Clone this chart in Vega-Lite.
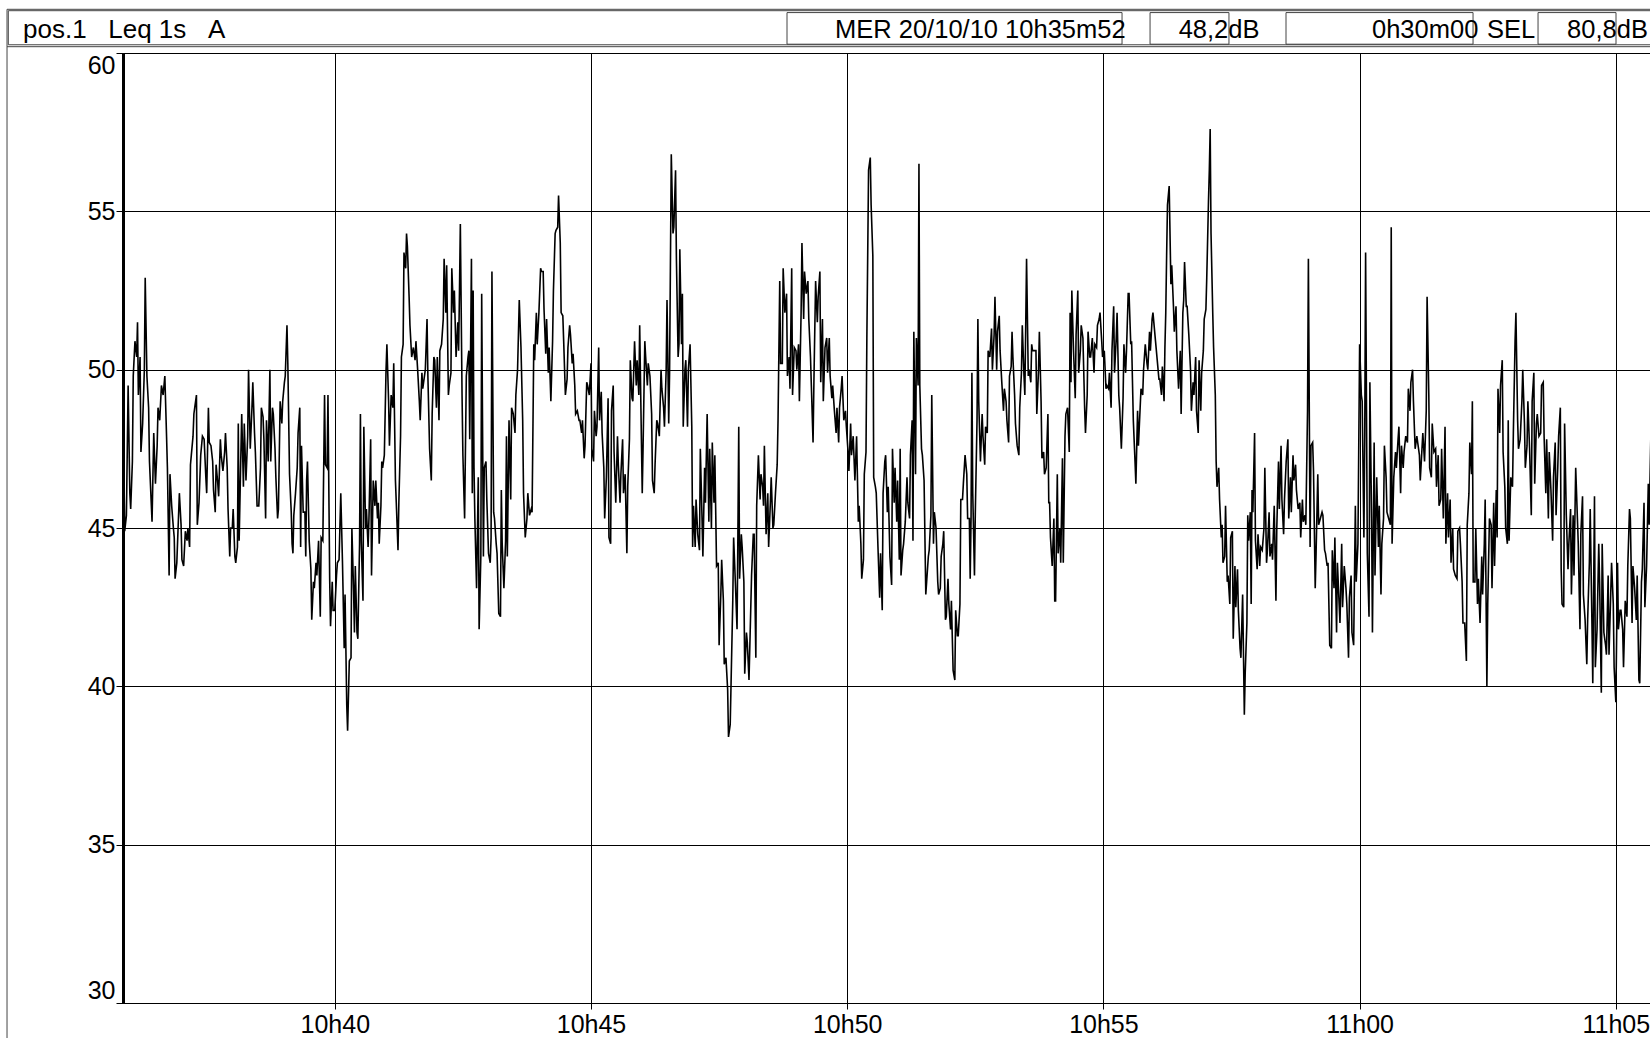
{
"$schema": "https://vega.github.io/schema/vega-lite/v6.json",
"width": 1527, "height": 950,
"autosize": {"type": "none"},
"padding": {"left": 123, "top": 53, "right": 0, "bottom": 35},
"background": "white",
"config": {
 "view": {"stroke": "black", "strokeWidth": 1},
 "font": "Liberation Sans",
 "axis": {"domainColor": "black", "gridColor": "black", "gridOpacity": 1, "gridWidth": 1, "tickColor": "black", "labelColor": "black", "labelFont": "Liberation Sans", "labelFontSize": 25, "title": null},
 "text": {"font": "Liberation Sans", "fontSize": 25.5, "color": "black"}
},
"data": {"values": [
{"t":1,"leq":46.9},{"t":2,"leq":44.9},{"t":4,"leq":45.4},{"t":6,"leq":49.5},{"t":8,"leq":46.1},{"t":9,"leq":45.6},{"t":11,"leq":47.1},{"t":12,"leq":49.8},{"t":14,"leq":50.9},{"t":16,"leq":50.4},{"t":17,"leq":51.5},{"t":18,"leq":49.2},{"t":20,"leq":50.4},{"t":21,"leq":47.4},{"t":23,"leq":48.3},{"t":25,"leq":50.0},{"t":26,"leq":52.9},{"t":28,"leq":49.8},{"t":30,"leq":48.8},{"t":31,"leq":47.1},{"t":34,"leq":45.2},{"t":36,"leq":48.0},{"t":38,"leq":46.4},{"t":40,"leq":47.6},{"t":41,"leq":48.8},{"t":43,"leq":48.4},{"t":45,"leq":49.5},{"t":47,"leq":49.2},{"t":49,"leq":49.8},{"t":51,"leq":47.9},{"t":52,"leq":46.9},{"t":54,"leq":43.5},{"t":55,"leq":46.7},{"t":57,"leq":45.7},{"t":59,"leq":45.0},{"t":60,"leq":44.7},{"t":61,"leq":43.4},{"t":63,"leq":43.9},{"t":66,"leq":46.1},{"t":68,"leq":45.1},{"t":69,"leq":44.0},{"t":71,"leq":43.8},{"t":73,"leq":44.9},{"t":75,"leq":44.6},{"t":76,"leq":45.0},{"t":78,"leq":44.4},{"t":79,"leq":47.0},{"t":80,"leq":47.3},{"t":82,"leq":47.9},{"t":83,"leq":48.6},{"t":84,"leq":48.8},{"t":86,"leq":49.2},{"t":87,"leq":45.1},{"t":89,"leq":45.8},{"t":91,"leq":47.3},{"t":93,"leq":47.9},{"t":95,"leq":47.8},{"t":97,"leq":46.6},{"t":98,"leq":46.1},{"t":100,"leq":48.8},{"t":101,"leq":47.7},{"t":103,"leq":47.6},{"t":105,"leq":47.1},{"t":106,"leq":46.2},{"t":108,"leq":45.5},{"t":109,"leq":47.0},{"t":111,"leq":46.4},{"t":112,"leq":46.0},{"t":114,"leq":47.8},{"t":115,"leq":47.3},{"t":117,"leq":46.8},{"t":119,"leq":47.4},{"t":120,"leq":48.0},{"t":122,"leq":46.9},{"t":123,"leq":45.6},{"t":125,"leq":44.1},{"t":126,"leq":45.0},{"t":128,"leq":45.0},{"t":129,"leq":45.6},{"t":131,"leq":44.1},{"t":132,"leq":43.9},{"t":134,"leq":44.4},{"t":135,"leq":48.3},{"t":136,"leq":44.6},{"t":138,"leq":47.3},{"t":139,"leq":48.6},{"t":141,"leq":46.3},{"t":142,"leq":48.3},{"t":144,"leq":46.5},{"t":146,"leq":47.9},{"t":147,"leq":50.0},{"t":149,"leq":47.5},{"t":151,"leq":48.8},{"t":152,"leq":49.6},{"t":154,"leq":48.0},{"t":155,"leq":47.4},{"t":157,"leq":45.7},{"t":159,"leq":45.7},{"t":161,"leq":46.9},{"t":162,"leq":48.8},{"t":164,"leq":48.5},{"t":165,"leq":47.8},{"t":167,"leq":45.3},{"t":168,"leq":48.4},{"t":170,"leq":47.1},{"t":172,"leq":50.0},{"t":173,"leq":47.1},{"t":175,"leq":48.8},{"t":176,"leq":48.6},{"t":178,"leq":47.5},{"t":179,"leq":46.6},{"t":181,"leq":45.3},{"t":182,"leq":45.6},{"t":184,"leq":49.0},{"t":186,"leq":48.3},{"t":187,"leq":49.0},{"t":189,"leq":49.6},{"t":190,"leq":49.8},{"t":192,"leq":51.4},{"t":193,"leq":50.2},{"t":195,"leq":46.7},{"t":197,"leq":45.5},{"t":198,"leq":44.5},{"t":199,"leq":44.2},{"t":200,"leq":45.4},{"t":202,"leq":46.1},{"t":204,"leq":46.9},{"t":205,"leq":48.0},{"t":207,"leq":48.8},{"t":208,"leq":44.4},{"t":209,"leq":47.6},{"t":211,"leq":45.5},{"t":213,"leq":45.5},{"t":214,"leq":44.1},{"t":215,"leq":46.5},{"t":216,"leq":47.1},{"t":218,"leq":44.6},{"t":220,"leq":43.7},{"t":221,"leq":42.1},{"t":223,"leq":43.3},{"t":224,"leq":43.1},{"t":226,"leq":43.9},{"t":227,"leq":43.5},{"t":229,"leq":44.6},{"t":231,"leq":42.2},{"t":232,"leq":44.7},{"t":234,"leq":44.6},{"t":236,"leq":49.2},{"t":237,"leq":47.0},{"t":239,"leq":46.9},{"t":240,"leq":49.2},{"t":242,"leq":43.4},{"t":243,"leq":41.9},{"t":245,"leq":43.3},{"t":246,"leq":42.4},{"t":248,"leq":42.4},{"t":250,"leq":43.5},{"t":251,"leq":43.9},{"t":253,"leq":44.0},{"t":255,"leq":46.1},
{"t":257,"leq":43.9},{"t":259,"leq":41.2},{"t":260,"leq":42.9},{"t":262,"leq":39.4},{"t":263,"leq":38.6},{"t":265,"leq":40.8},{"t":267,"leq":40.9},{"t":268,"leq":45.0},{"t":270,"leq":43.0},{"t":271,"leq":41.7},{"t":272,"leq":43.8},{"t":274,"leq":41.7},{"t":275,"leq":41.5},{"t":277,"leq":44.5},{"t":278,"leq":48.6},{"t":279,"leq":44.6},{"t":281,"leq":42.7},{"t":282,"leq":48.2},{"t":284,"leq":45.0},{"t":285,"leq":45.6},{"t":287,"leq":44.4},{"t":288,"leq":45.3},{"t":290,"leq":47.8},{"t":291,"leq":43.5},{"t":293,"leq":46.5},{"t":295,"leq":45.7},{"t":296,"leq":46.5},{"t":298,"leq":45.3},{"t":299,"leq":45.8},{"t":300,"leq":44.5},{"t":302,"leq":45.7},{"t":303,"leq":47.1},{"t":304,"leq":46.9},{"t":306,"leq":47.3},{"t":308,"leq":50.0},{"t":309,"leq":50.8},{"t":311,"leq":49.0},{"t":312,"leq":47.6},{"t":314,"leq":49.2},{"t":316,"leq":48.8},{"t":317,"leq":50.2},{"t":319,"leq":46.5},{"t":320,"leq":45.8},{"t":322,"leq":44.3},{"t":323,"leq":45.8},{"t":325,"leq":47.9},{"t":326,"leq":50.4},{"t":328,"leq":50.8},{"t":329,"leq":53.7},{"t":331,"leq":53.2},{"t":332,"leq":54.3},{"t":333,"leq":53.9},{"t":335,"leq":52.3},{"t":336,"leq":51.4},{"t":338,"leq":50.4},{"t":340,"leq":50.7},{"t":342,"leq":50.3},{"t":343,"leq":50.9},{"t":345,"leq":50.0},{"t":347,"leq":49.0},{"t":348,"leq":48.4},{"t":350,"leq":49.9},{"t":351,"leq":49.4},{"t":353,"leq":49.8},{"t":354,"leq":50.0},{"t":356,"leq":51.6},{"t":357,"leq":49.8},{"t":359,"leq":47.5},{"t":361,"leq":46.5},{"t":362,"leq":48.6},{"t":364,"leq":50.4},{"t":365,"leq":50.3},{"t":367,"leq":48.8},{"t":368,"leq":50.4},{"t":370,"leq":48.4},{"t":371,"leq":50.6},{"t":373,"leq":50.8},{"t":375,"leq":51.6},{"t":376,"leq":53.5},{"t":378,"leq":51.8},{"t":379,"leq":53.3},{"t":381,"leq":49.2},{"t":382,"leq":49.5},{"t":384,"leq":49.9},{"t":385,"leq":53.2},{"t":387,"leq":51.8},{"t":388,"leq":52.5},{"t":390,"leq":50.4},{"t":392,"leq":51.5},{"t":393,"leq":50.6},{"t":394,"leq":52.5},{"t":395,"leq":54.6},{"t":397,"leq":49.2},{"t":398,"leq":47.3},{"t":400,"leq":45.3},{"t":402,"leq":49.8},{"t":404,"leq":50.4},{"t":405,"leq":50.6},{"t":406,"leq":47.8},{"t":408,"leq":53.5},{"t":409,"leq":46.1},{"t":410,"leq":52.5},{"t":411,"leq":46.9},{"t":412,"leq":45.3},{"t":414,"leq":43.1},{"t":416,"leq":46.6},{"t":417,"leq":41.8},{"t":419,"leq":44.1},{"t":420,"leq":52.4},{"t":422,"leq":44.1},{"t":423,"leq":46.9},{"t":425,"leq":47.1},{"t":426,"leq":45.9},{"t":428,"leq":44.2},{"t":430,"leq":43.9},{"t":431,"leq":44.7},{"t":432,"leq":53.1},{"t":434,"leq":45.5},{"t":435,"leq":45.3},{"t":437,"leq":44.5},{"t":438,"leq":44.2},{"t":440,"leq":42.3},{"t":442,"leq":42.2},{"t":443,"leq":46.2},{"t":444,"leq":44.5},{"t":446,"leq":43.1},{"t":448,"leq":44.6},{"t":449,"leq":47.9},{"t":450,"leq":44.1},{"t":452,"leq":48.4},{"t":454,"leq":45.9},{"t":455,"leq":48.8},{"t":457,"leq":48.6},{"t":459,"leq":48.0},{"t":460,"leq":49.2},{"t":462,"leq":50.0},{"t":463,"leq":51.1},{"t":464,"leq":52.2},{"t":466,"leq":50.7},{"t":468,"leq":48.4},{"t":469,"leq":46.1},{"t":471,"leq":44.7},{"t":473,"leq":45.3},{"t":474,"leq":46.1},{"t":476,"leq":45.4},{"t":478,"leq":45.6},{"t":479,"leq":45.5},{"t":481,"leq":50.8},{"t":482,"leq":50.3},{"t":484,"leq":51.8},{"t":485,"leq":50.8},{"t":487,"leq":51.8},{"t":489,"leq":53.2},{"t":490,"leq":53.1},{"t":492,"leq":53.1},{"t":493,"leq":51.9},{"t":495,"leq":50.5},{"t":496,"leq":51.6},{"t":498,"leq":49.9},{"t":499,"leq":50.7},{"t":501,"leq":49.0},{"t":503,"leq":50.9},{"t":504,"leq":52.5},{"t":506,"leq":54.3},{"t":507,"leq":54.4},{"t":509,"leq":54.5},{"t":510,"leq":55.5},{"t":512,"leq":54.0},{"t":513,"leq":51.8},{"t":515,"leq":51.7},{"t":516,"leq":50.9},{"t":518,"leq":49.2},{"t":520,"leq":49.7},{"t":521,"leq":50.7},{"t":523,"leq":51.4},{"t":524,"leq":51.1},{"t":526,"leq":50.2},{"t":527,"leq":50.5},{"t":529,"leq":49.5},{"t":530,"leq":48.6},{"t":532,"leq":48.7},{"t":534,"leq":48.4},{"t":535,"leq":48.4},{"t":537,"leq":48.0},{"t":538,"leq":48.4},{"t":540,"leq":47.2},{"t":541,"leq":47.6},{"t":543,"leq":49.6},{"t":544,"leq":49.5},{"t":546,"leq":49.2},{"t":548,"leq":50.2},{"t":549,"leq":47.5},{"t":551,"leq":47.1},{"t":552,"leq":48.7},{"t":554,"leq":47.9},{"t":555,"leq":48.2},{"t":557,"leq":50.7},
{"t":558,"leq":48.4},{"t":560,"leq":49.3},{"t":561,"leq":48.0},{"t":563,"leq":46.9},{"t":564,"leq":45.3},{"t":566,"leq":46.6},{"t":568,"leq":49.1},{"t":569,"leq":44.7},{"t":571,"leq":44.5},{"t":572,"leq":48.7},{"t":574,"leq":49.5},{"t":575,"leq":47.4},{"t":577,"leq":45.8},{"t":579,"leq":47.9},{"t":580,"leq":47.0},{"t":582,"leq":45.8},{"t":583,"leq":46.7},{"t":585,"leq":47.8},{"t":586,"leq":46.1},{"t":588,"leq":46.7},{"t":590,"leq":44.2},{"t":591,"leq":46.3},{"t":593,"leq":47.8},{"t":594,"leq":50.3},{"t":596,"leq":49.1},{"t":597,"leq":49.0},{"t":599,"leq":50.9},{"t":601,"leq":49.5},{"t":602,"leq":50.3},{"t":604,"leq":49.2},{"t":605,"leq":51.4},{"t":607,"leq":47.8},{"t":608,"leq":46.1},{"t":609,"leq":47.6},{"t":611,"leq":50.9},{"t":612,"leq":50.4},{"t":614,"leq":49.5},{"t":615,"leq":50.2},{"t":617,"leq":49.8},{"t":619,"leq":48.6},{"t":620,"leq":46.5},{"t":622,"leq":46.1},{"t":623,"leq":47.0},{"t":625,"leq":48.4},{"t":626,"leq":48.3},{"t":628,"leq":47.9},{"t":630,"leq":50.0},{"t":631,"leq":49.4},{"t":633,"leq":48.8},{"t":634,"leq":48.2},{"t":636,"leq":50.0},{"t":637,"leq":52.2},{"t":639,"leq":48.3},{"t":640,"leq":49.9},{"t":642,"leq":56.8},{"t":644,"leq":54.3},{"t":645,"leq":54.5},{"t":647,"leq":56.3},{"t":648,"leq":53.5},{"t":650,"leq":50.4},{"t":651,"leq":50.8},{"t":652,"leq":53.8},{"t":654,"leq":50.8},{"t":655,"leq":52.4},{"t":656,"leq":48.2},{"t":658,"leq":50.0},{"t":659,"leq":50.3},{"t":661,"leq":48.2},{"t":662,"leq":50.0},{"t":664,"leq":50.8},{"t":666,"leq":48.2},{"t":667,"leq":44.4},{"t":668,"leq":45.7},{"t":670,"leq":44.4},{"t":671,"leq":45.9},{"t":673,"leq":44.8},{"t":675,"leq":44.3},{"t":676,"leq":47.5},{"t":678,"leq":45.3},{"t":679,"leq":44.1},{"t":681,"leq":46.9},{"t":682,"leq":45.8},{"t":684,"leq":48.6},{"t":686,"leq":45.2},{"t":687,"leq":47.5},{"t":689,"leq":45.0},{"t":690,"leq":47.7},{"t":692,"leq":45.8},{"t":693,"leq":47.3},{"t":695,"leq":43.8},{"t":697,"leq":43.9},{"t":698,"leq":41.3},{"t":700,"leq":42.9},{"t":701,"leq":44.0},{"t":703,"leq":42.7},{"t":704,"leq":40.7},{"t":706,"leq":40.9},{"t":708,"leq":39.9},{"t":709,"leq":38.4},{"t":711,"leq":38.8},{"t":712,"leq":40.1},{"t":714,"leq":42.7},{"t":715,"leq":44.7},{"t":717,"leq":43.3},{"t":719,"leq":41.8},{"t":720,"leq":44.8},{"t":721,"leq":48.2},{"t":722,"leq":43.4},{"t":724,"leq":44.8},{"t":725,"leq":44.4},{"t":727,"leq":43.3},{"t":728,"leq":40.4},{"t":730,"leq":41.7},{"t":731,"leq":41.4},{"t":733,"leq":40.2},{"t":735,"leq":42.4},{"t":736,"leq":43.5},{"t":738,"leq":44.8},{"t":739,"leq":44.8},{"t":741,"leq":40.9},{"t":742,"leq":45.7},{"t":744,"leq":47.3},{"t":746,"leq":45.9},{"t":747,"leq":46.7},{"t":749,"leq":46.3},{"t":750,"leq":45.7},{"t":751,"leq":47.6},{"t":753,"leq":44.8},{"t":755,"leq":46.1},{"t":756,"leq":44.4},{"t":758,"leq":45.8},{"t":759,"leq":46.6},{"t":761,"leq":45.0},{"t":762,"leq":45.1},{"t":764,"leq":46.1},{"t":766,"leq":47.0},{"t":767,"leq":48.4},{"t":769,"leq":52.8},{"t":770,"leq":50.2},{"t":772,"leq":50.2},{"t":773,"leq":53.2},{"t":775,"leq":51.8},{"t":777,"leq":52.4},{"t":778,"leq":49.8},{"t":780,"leq":50.4},{"t":781,"leq":49.4},{"t":783,"leq":53.2},{"t":784,"leq":49.2},{"t":786,"leq":50.7},{"t":788,"leq":50.6},{"t":789,"leq":50.0},{"t":791,"leq":50.8},{"t":792,"leq":49.0},{"t":794,"leq":51.8},{"t":795,"leq":54.0},{"t":797,"leq":51.6},{"t":798,"leq":53.1},{"t":800,"leq":52.4},{"t":802,"leq":52.8},{"t":803,"leq":51.6},{"t":805,"leq":50.4},{"t":806,"leq":49.5},{"t":808,"leq":47.7},{"t":809,"leq":49.6},{"t":811,"leq":52.8},{"t":813,"leq":51.5},{"t":814,"leq":52.3},{"t":816,"leq":53.1},{"t":817,"leq":49.6},{"t":819,"leq":51.6},{"t":820,"leq":49.0},{"t":822,"leq":50.7},{"t":824,"leq":51.0},{"t":825,"leq":49.9},{"t":827,"leq":51.0},{"t":828,"leq":49.8},{"t":830,"leq":49.1},{"t":831,"leq":49.5},{"t":833,"leq":48.7},{"t":835,"leq":48.0},{"t":836,"leq":48.8},{"t":838,"leq":47.7},{"t":839,"leq":48.8},{"t":841,"leq":49.4},{"t":842,"leq":49.8},{"t":844,"leq":48.4},{"t":846,"leq":48.7},{"t":847,"leq":48.2},{"t":849,"leq":47.4},{"t":850,"leq":46.8},{"t":852,"leq":48.3},{"t":853,"leq":47.3},{"t":855,"leq":47.9},{"t":857,"leq":46.5},
{"t":859,"leq":47.9},{"t":861,"leq":45.2},{"t":862,"leq":45.7},{"t":864,"leq":44.5},{"t":865,"leq":43.4},{"t":867,"leq":44.0},{"t":868,"leq":46.7},{"t":870,"leq":47.4},{"t":871,"leq":51.0},{"t":873,"leq":56.3},{"t":875,"leq":56.7},{"t":876,"leq":55.2},{"t":878,"leq":53.6},{"t":879,"leq":46.6},{"t":881,"leq":46.3},{"t":882,"leq":46.1},{"t":884,"leq":44.4},{"t":886,"leq":42.8},{"t":887,"leq":44.2},{"t":889,"leq":42.4},{"t":890,"leq":46.1},{"t":892,"leq":47.1},{"t":893,"leq":47.3},{"t":895,"leq":45.5},{"t":896,"leq":46.3},{"t":898,"leq":44.1},{"t":900,"leq":43.2},{"t":901,"leq":47.5},{"t":903,"leq":45.8},{"t":904,"leq":46.9},{"t":906,"leq":45.2},{"t":907,"leq":46.5},{"t":909,"leq":44.0},{"t":910,"leq":47.5},{"t":911,"leq":43.5},{"t":913,"leq":44.3},{"t":914,"leq":44.5},{"t":916,"leq":45.2},{"t":918,"leq":46.6},{"t":919,"leq":45.8},{"t":921,"leq":45.3},{"t":922,"leq":47.3},{"t":924,"leq":48.4},{"t":925,"leq":44.6},{"t":926,"leq":51.2},{"t":928,"leq":46.7},{"t":929,"leq":51.0},{"t":931,"leq":49.5},{"t":932,"leq":56.5},{"t":933,"leq":49.5},{"t":935,"leq":47.5},{"t":936,"leq":47.3},{"t":938,"leq":46.5},{"t":940,"leq":42.9},{"t":941,"leq":43.3},{"t":943,"leq":44.1},{"t":944,"leq":44.3},{"t":946,"leq":45.4},{"t":947,"leq":49.2},{"t":949,"leq":44.5},{"t":950,"leq":45.5},{"t":952,"leq":45.0},{"t":954,"leq":43.3},{"t":955,"leq":42.9},{"t":957,"leq":43.1},{"t":958,"leq":44.1},{"t":960,"leq":44.5},{"t":961,"leq":44.9},{"t":963,"leq":42.1},{"t":964,"leq":42.2},{"t":966,"leq":43.4},{"t":967,"leq":42.6},{"t":969,"leq":41.8},{"t":970,"leq":42.7},{"t":972,"leq":40.5},{"t":974,"leq":40.2},{"t":975,"leq":42.4},{"t":977,"leq":41.6},{"t":978,"leq":41.6},{"t":980,"leq":42.6},{"t":981,"leq":45.9},{"t":983,"leq":45.9},{"t":984,"leq":46.4},{"t":986,"leq":47.3},{"t":988,"leq":46.7},{"t":989,"leq":45.3},{"t":991,"leq":45.3},{"t":992,"leq":43.4},{"t":993,"leq":45.3},{"t":994,"leq":49.9},{"t":995,"leq":46.1},{"t":997,"leq":43.5},{"t":998,"leq":45.5},{"t":1000,"leq":48.4},{"t":1001,"leq":51.6},{"t":1002,"leq":49.0},{"t":1004,"leq":47.1},{"t":1006,"leq":48.6},{"t":1007,"leq":47.9},{"t":1009,"leq":47.0},{"t":1010,"leq":48.2},{"t":1012,"leq":48.0},{"t":1013,"leq":50.6},{"t":1015,"leq":50.4},{"t":1017,"leq":51.3},{"t":1018,"leq":50.0},{"t":1020,"leq":51.1},{"t":1021,"leq":52.3},{"t":1023,"leq":50.0},{"t":1024,"leq":51.2},{"t":1026,"leq":51.7},{"t":1027,"leq":50.6},{"t":1029,"leq":49.6},{"t":1031,"leq":48.7},{"t":1032,"leq":49.4},{"t":1034,"leq":49.0},{"t":1035,"leq":48.4},{"t":1037,"leq":47.7},{"t":1038,"leq":49.8},{"t":1040,"leq":50.1},{"t":1041,"leq":51.2},{"t":1042,"leq":50.4},{"t":1044,"leq":49.2},{"t":1045,"leq":48.3},{"t":1047,"leq":47.6},{"t":1049,"leq":47.3},{"t":1050,"leq":48.8},{"t":1052,"leq":49.9},{"t":1053,"leq":51.4},{"t":1055,"leq":49.8},{"t":1056,"leq":49.2},{"t":1058,"leq":53.5},{"t":1060,"leq":49.8},{"t":1061,"leq":50.0},{"t":1063,"leq":49.6},{"t":1064,"leq":50.8},{"t":1065,"leq":50.6},{"t":1067,"leq":50.6},{"t":1069,"leq":50.6},{"t":1070,"leq":48.6},{"t":1072,"leq":50.0},{"t":1073,"leq":51.2},{"t":1075,"leq":49.0},{"t":1076,"leq":47.2},{"t":1078,"leq":47.4},{"t":1079,"leq":46.7},{"t":1081,"leq":46.9},{"t":1083,"leq":48.6},{"t":1084,"leq":45.8},{"t":1085,"leq":45.8},{"t":1086,"leq":44.7},{"t":1088,"leq":43.8},{"t":1090,"leq":45.3},{"t":1091,"leq":42.7},{"t":1092,"leq":42.7},{"t":1094,"leq":46.7},{"t":1095,"leq":44.2},{"t":1097,"leq":45.0},{"t":1098,"leq":43.9},{"t":1100,"leq":47.2},{"t":1101,"leq":43.9},{"t":1103,"leq":47.9},{"t":1104,"leq":48.6},{"t":1106,"leq":48.8},{"t":1108,"leq":47.4},{"t":1109,"leq":51.8},{"t":1110,"leq":49.6},{"t":1111,"leq":52.5},{"t":1113,"leq":50.6},{"t":1115,"leq":49.1},{"t":1116,"leq":51.1},{"t":1118,"leq":52.5},{"t":1119,"leq":49.9},{"t":1121,"leq":50.6},{"t":1122,"leq":51.4},{"t":1124,"leq":51.0},{"t":1126,"leq":48.8},{"t":1127,"leq":48.0},{"t":1129,"leq":49.2},{"t":1130,"leq":51.2},{"t":1132,"leq":50.4},{"t":1133,"leq":50.4},{"t":1135,"leq":51.0},{"t":1137,"leq":49.9},{"t":1138,"leq":50.8},{"t":1140,"leq":50.7},{"t":1141,"leq":51.4},{"t":1143,"leq":51.6},{"t":1144,"leq":51.8},{"t":1146,"leq":50.9},{"t":1147,"leq":50.4},{"t":1149,"leq":50.6},{"t":1151,"leq":49.4},{"t":1152,"leq":49.5},{"t":1154,"leq":49.4},{"t":1155,"leq":49.9},
{"t":1157,"leq":48.8},{"t":1158,"leq":50.6},{"t":1160,"leq":52.0},{"t":1161,"leq":49.9},{"t":1163,"leq":51.0},{"t":1164,"leq":51.8},{"t":1166,"leq":49.2},{"t":1167,"leq":48.8},{"t":1169,"leq":47.5},{"t":1171,"leq":49.1},{"t":1172,"leq":50.8},{"t":1174,"leq":49.9},{"t":1175,"leq":50.6},{"t":1177,"leq":52.4},{"t":1178,"leq":52.4},{"t":1180,"leq":50.8},{"t":1181,"leq":50.9},{"t":1183,"leq":48.4},{"t":1185,"leq":47.1},{"t":1186,"leq":46.4},{"t":1188,"leq":48.7},{"t":1189,"leq":47.6},{"t":1191,"leq":48.8},{"t":1192,"leq":49.4},{"t":1194,"leq":49.2},{"t":1195,"leq":50.0},{"t":1197,"leq":50.8},{"t":1199,"leq":50.2},{"t":1200,"leq":50.0},{"t":1202,"leq":51.2},{"t":1203,"leq":50.6},{"t":1205,"leq":51.6},{"t":1206,"leq":51.8},{"t":1208,"leq":51.2},{"t":1209,"leq":50.9},{"t":1211,"leq":50.3},{"t":1213,"leq":49.7},{"t":1214,"leq":49.7},{"t":1216,"leq":49.2},{"t":1217,"leq":50.1},{"t":1219,"leq":49.0},{"t":1220,"leq":50.7},{"t":1221,"leq":51.8},{"t":1222,"leq":53.6},{"t":1223,"leq":55.2},{"t":1225,"leq":55.8},{"t":1227,"leq":52.7},{"t":1228,"leq":53.3},{"t":1230,"leq":52.0},{"t":1231,"leq":51.2},{"t":1233,"leq":52.0},{"t":1234,"leq":50.6},{"t":1236,"leq":49.4},{"t":1238,"leq":50.6},{"t":1239,"leq":48.6},{"t":1241,"leq":51.8},{"t":1242,"leq":52.2},{"t":1243,"leq":53.4},{"t":1245,"leq":52.0},{"t":1246,"leq":52.0},{"t":1248,"leq":51.1},{"t":1250,"leq":50.0},{"t":1251,"leq":48.7},{"t":1253,"leq":49.6},{"t":1254,"leq":49.2},{"t":1256,"leq":50.4},{"t":1257,"leq":48.7},{"t":1259,"leq":48.0},{"t":1260,"leq":50.3},{"t":1262,"leq":48.7},{"t":1263,"leq":49.9},{"t":1265,"leq":50.6},{"t":1266,"leq":51.6},{"t":1268,"leq":51.9},{"t":1269,"leq":52.9},{"t":1271,"leq":55.3},{"t":1272,"leq":56.3},{"t":1273,"leq":57.6},{"t":1274,"leq":54.3},{"t":1276,"leq":51.8},{"t":1277,"leq":50.7},{"t":1279,"leq":49.2},{"t":1280,"leq":47.1},{"t":1281,"leq":46.3},{"t":1283,"leq":46.9},{"t":1284,"leq":45.9},{"t":1286,"leq":44.7},{"t":1287,"leq":45.1},{"t":1288,"leq":43.9},{"t":1290,"leq":44.1},{"t":1291,"leq":45.7},{"t":1293,"leq":43.3},{"t":1294,"leq":43.5},{"t":1296,"leq":42.6},{"t":1297,"leq":44.7},{"t":1299,"leq":44.9},{"t":1300,"leq":41.5},{"t":1302,"leq":43.8},{"t":1303,"leq":42.5},{"t":1305,"leq":43.7},{"t":1306,"leq":42.4},{"t":1308,"leq":41.2},{"t":1309,"leq":40.9},{"t":1311,"leq":42.9},{"t":1313,"leq":39.1},{"t":1314,"leq":40.4},{"t":1316,"leq":42.0},{"t":1317,"leq":45.4},{"t":1318,"leq":44.6},{"t":1320,"leq":45.5},{"t":1321,"leq":42.6},{"t":1322,"leq":46.2},{"t":1323,"leq":45.5},{"t":1325,"leq":48.0},{"t":1326,"leq":44.6},{"t":1328,"leq":43.7},{"t":1329,"leq":44.8},{"t":1331,"leq":43.8},{"t":1332,"leq":44.4},{"t":1334,"leq":44.3},{"t":1336,"leq":45.0},{"t":1337,"leq":46.9},{"t":1339,"leq":43.9},{"t":1340,"leq":44.3},{"t":1342,"leq":45.5},{"t":1343,"leq":44.1},{"t":1345,"leq":44.5},{"t":1346,"leq":44.0},{"t":1348,"leq":45.7},{"t":1350,"leq":42.7},{"t":1351,"leq":45.0},{"t":1353,"leq":47.1},{"t":1354,"leq":45.6},{"t":1356,"leq":47.6},{"t":1357,"leq":45.9},{"t":1359,"leq":44.8},{"t":1360,"leq":45.9},{"t":1362,"leq":47.1},{"t":1364,"leq":47.8},{"t":1365,"leq":45.3},{"t":1367,"leq":46.6},{"t":1368,"leq":45.5},{"t":1370,"leq":47.3},{"t":1371,"leq":46.5},{"t":1373,"leq":47.0},{"t":1374,"leq":46.2},{"t":1376,"leq":45.6},{"t":1378,"leq":45.8},{"t":1379,"leq":44.7},{"t":1381,"leq":45.9},{"t":1382,"leq":45.2},{"t":1384,"leq":45.4},{"t":1385,"leq":45.1},{"t":1387,"leq":48.7},{"t":1388,"leq":53.5},{"t":1390,"leq":44.4},{"t":1391,"leq":47.6},{"t":1393,"leq":47.7},{"t":1394,"leq":46.8},{"t":1396,"leq":43.1},{"t":1397,"leq":44.2},{"t":1399,"leq":46.7},{"t":1400,"leq":45.1},{"t":1402,"leq":45.3},{"t":1404,"leq":45.5},{"t":1405,"leq":45.4},{"t":1407,"leq":44.3},{"t":1408,"leq":44.2},{"t":1410,"leq":43.8},{"t":1411,"leq":43.9},{"t":1413,"leq":41.3},{"t":1415,"leq":41.2},{"t":1416,"leq":44.3},{"t":1418,"leq":43.1},{"t":1419,"leq":44.7},{"t":1421,"leq":41.7},{"t":1422,"leq":43.9},{"t":1424,"leq":42.6},{"t":1425,"leq":42.0},{"t":1427,"leq":44.5},{"t":1428,"leq":42.5},{"t":1430,"leq":43.8},{"t":1432,"leq":43.1},{"t":1433,"leq":42.6},{"t":1435,"leq":40.9},{"t":1436,"leq":42.8},{"t":1438,"leq":43.5},{"t":1439,"leq":41.7},{"t":1441,"leq":41.3},{"t":1443,"leq":45.7},{"t":1444,"leq":43.3},{"t":1446,"leq":44.5},
{"t":1448,"leq":50.8},{"t":1450,"leq":49.2},{"t":1451,"leq":49.0},{"t":1453,"leq":44.7},{"t":1454,"leq":47.9},{"t":1455,"leq":53.7},{"t":1457,"leq":44.2},{"t":1459,"leq":42.2},{"t":1460,"leq":49.6},{"t":1462,"leq":45.3},{"t":1463,"leq":41.7},{"t":1465,"leq":47.7},{"t":1466,"leq":43.5},{"t":1468,"leq":46.6},{"t":1470,"leq":44.4},{"t":1471,"leq":45.7},{"t":1473,"leq":42.9},{"t":1474,"leq":44.5},{"t":1476,"leq":45.3},{"t":1477,"leq":47.6},{"t":1479,"leq":46.6},{"t":1480,"leq":45.5},{"t":1482,"leq":45.3},{"t":1484,"leq":45.1},{"t":1485,"leq":54.5},{"t":1486,"leq":44.5},{"t":1488,"leq":46.6},{"t":1490,"leq":47.4},{"t":1491,"leq":46.9},{"t":1493,"leq":47.8},{"t":1494,"leq":48.2},{"t":1496,"leq":46.1},{"t":1497,"leq":47.6},{"t":1499,"leq":46.9},{"t":1500,"leq":47.4},{"t":1502,"leq":47.9},{"t":1504,"leq":47.7},{"t":1505,"leq":49.4},{"t":1507,"leq":48.7},{"t":1508,"leq":49.6},{"t":1510,"leq":50.0},{"t":1511,"leq":49.0},{"t":1513,"leq":47.5},{"t":1515,"leq":47.9},{"t":1516,"leq":47.7},{"t":1518,"leq":47.3},{"t":1519,"leq":46.5},{"t":1521,"leq":47.5},{"t":1522,"leq":48.0},{"t":1524,"leq":47.1},{"t":1526,"leq":48.7},{"t":1527,"leq":52.3},{"t":1529,"leq":49.2},{"t":1530,"leq":46.9},{"t":1532,"leq":46.6},{"t":1533,"leq":48.3},{"t":1535,"leq":47.4},{"t":1537,"leq":47.5},{"t":1538,"leq":46.3},{"t":1540,"leq":47.3},{"t":1541,"leq":45.7},{"t":1543,"leq":45.9},{"t":1544,"leq":47.5},{"t":1546,"leq":45.3},{"t":1548,"leq":48.2},{"t":1549,"leq":44.5},{"t":1551,"leq":46.1},{"t":1552,"leq":44.7},{"t":1554,"leq":45.9},{"t":1555,"leq":43.9},{"t":1557,"leq":45.0},{"t":1558,"leq":43.7},{"t":1560,"leq":43.5},{"t":1562,"leq":43.4},{"t":1563,"leq":44.9},{"t":1565,"leq":45.0},{"t":1566,"leq":44.5},{"t":1568,"leq":43.3},{"t":1569,"leq":42.0},{"t":1571,"leq":42.0},{"t":1573,"leq":40.8},{"t":1574,"leq":45.1},{"t":1576,"leq":46.1},{"t":1577,"leq":47.7},{"t":1579,"leq":46.7},{"t":1580,"leq":49.0},{"t":1581,"leq":43.3},{"t":1583,"leq":43.3},{"t":1584,"leq":45.0},{"t":1586,"leq":42.6},{"t":1587,"leq":43.4},{"t":1589,"leq":42.0},{"t":1591,"leq":44.1},{"t":1592,"leq":42.9},{"t":1594,"leq":44.5},{"t":1595,"leq":45.9},{"t":1597,"leq":40.0},{"t":1598,"leq":42.6},{"t":1600,"leq":45.3},{"t":1602,"leq":45.1},{"t":1603,"leq":43.1},{"t":1605,"leq":45.8},{"t":1606,"leq":43.8},{"t":1608,"leq":46.2},{"t":1609,"leq":44.7},{"t":1610,"leq":49.4},{"t":1612,"leq":48.0},{"t":1613,"leq":49.5},{"t":1615,"leq":50.3},{"t":1616,"leq":47.4},{"t":1618,"leq":46.3},{"t":1619,"leq":45.0},{"t":1621,"leq":44.5},{"t":1622,"leq":48.4},{"t":1623,"leq":44.6},{"t":1625,"leq":46.6},{"t":1627,"leq":46.3},{"t":1628,"leq":48.0},{"t":1630,"leq":50.9},{"t":1631,"leq":51.8},{"t":1633,"leq":48.4},{"t":1634,"leq":47.5},{"t":1636,"leq":47.8},{"t":1638,"leq":49.0},{"t":1639,"leq":50.0},{"t":1641,"leq":48.3},{"t":1642,"leq":46.9},{"t":1644,"leq":47.6},{"t":1645,"leq":49.0},{"t":1647,"leq":47.5},{"t":1649,"leq":45.4},{"t":1650,"leq":49.0},{"t":1652,"leq":49.9},{"t":1653,"leq":46.4},{"t":1655,"leq":48.3},{"t":1656,"leq":48.6},{"t":1658,"leq":47.9},{"t":1660,"leq":48.0},{"t":1661,"leq":49.5},{"t":1663,"leq":49.6},{"t":1664,"leq":47.9},{"t":1666,"leq":46.1},{"t":1667,"leq":47.8},{"t":1669,"leq":45.3},{"t":1670,"leq":47.4},{"t":1672,"leq":46.2},{"t":1674,"leq":44.6},{"t":1675,"leq":46.6},{"t":1677,"leq":47.7},{"t":1678,"leq":45.4},{"t":1680,"leq":46.9},{"t":1681,"leq":47.9},{"t":1683,"leq":48.8},{"t":1684,"leq":43.7},{"t":1685,"leq":42.6},{"t":1687,"leq":42.5},{"t":1688,"leq":48.3},{"t":1690,"leq":45.4},{"t":1692,"leq":43.7},{"t":1693,"leq":44.5},{"t":1695,"leq":45.6},{"t":1696,"leq":42.9},{"t":1698,"leq":45.4},{"t":1699,"leq":43.5},{"t":1701,"leq":46.9},{"t":1703,"leq":45.3},{"t":1704,"leq":44.5},{"t":1706,"leq":41.8},{"t":1707,"leq":44.8},{"t":1709,"leq":46.0},{"t":1710,"leq":42.9},{"t":1712,"leq":42.1},{"t":1714,"leq":40.7},{"t":1715,"leq":42.1},{"t":1717,"leq":43.9},{"t":1718,"leq":45.6},{"t":1720,"leq":42.0},{"t":1721,"leq":40.1},{"t":1723,"leq":46.0},{"t":1724,"leq":40.6},{"t":1726,"leq":41.8},{"t":1728,"leq":44.5},{"t":1729,"leq":43.3},{"t":1731,"leq":39.8},{"t":1732,"leq":44.5},{"t":1734,"leq":41.7},{"t":1736,"leq":41.3},{"t":1737,"leq":41.0},{"t":1739,"leq":43.5},{"t":1740,"leq":41.0},{"t":1742,"leq":42.9},{"t":1743,"leq":43.9},{"t":1745,"leq":42.6},{"t":1746,"leq":40.6},{"t":1748,"leq":39.5},{"t":1750,"leq":43.9},{"t":1751,"leq":41.8},{"t":1753,"leq":42.4},{"t":1754,"leq":42.4},{"t":1756,"leq":41.8},{"t":1757,"leq":40.6},{"t":1759,"leq":42.7},{"t":1761,"leq":42.2},{"t":1762,"leq":43.8},{"t":1764,"leq":45.6},{"t":1765,"leq":45.3},{"t":1767,"leq":42.0},{"t":1768,"leq":43.8},{"t":1770,"leq":43.1},{"t":1772,"leq":42.1},{"t":1773,"leq":43.5},{"t":1775,"leq":40.2},{"t":1776,"leq":40.1},{"t":1778,"leq":43.3},{"t":1779,"leq":43.7},{"t":1781,"leq":45.8},{"t":1782,"leq":42.5},{"t":1784,"leq":43.8},{"t":1786,"leq":46.4},{"t":1787,"leq":45.1},{"t":1789,"leq":47.9},{"t":1790,"leq":48.2}
]},
"layer": [
 {"mark": {"type": "line", "color": "black", "strokeWidth": 1.6, "clip": true},
  "encoding": {
   "x": {"field": "t", "type": "quantitative", "scale": {"domain": [0, 1788], "nice": false, "zero": false},
    "axis": {"values": [248, 548, 848, 1148, 1448, 1748], "grid": true, "tickSize": 6, "labelPadding": 3, "labelFlush": false, "domainWidth": 1,
     "labelExpr": "floor((38152+datum.value)/3600)+'h'+pad(floor(((38152+datum.value)%3600)/60)+'',2,'0','left')"}},
   "y": {"field": "leq", "type": "quantitative", "scale": {"domain": [30, 60], "nice": false, "zero": false},
    "axis": {"values": [30, 35, 40, 45, 50, 55, 60], "grid": true, "tickSize": 7, "labelPadding": 1, "labelFlush": true, "domainWidth": 3}}
  }},
 {"data": {"values": [{}]}, "mark": {"type": "rect", "fill": null, "fillOpacity": 0, "stroke": "#444", "strokeWidth": 1},
  "encoding": {"x": {"datum": -135.8, "type": "quantitative"}, "x2": {"datum": 2500}, "y": {"datum": 61.38, "type": "quantitative"}, "y2": {"datum": 0}}},
 {"data": {"values": [{}]}, "mark": {"type": "rect", "fill": null, "fillOpacity": 0, "stroke": "#444", "strokeWidth": 1},
  "encoding": {"x": {"datum": -134.3, "type": "quantitative"}, "x2": {"datum": 2500}, "y": {"datum": 61.336, "type": "quantitative"}, "y2": {"datum": 60.26}}},
 {"data": {"values": [{}]}, "mark": {"type": "rule", "stroke": "#444", "strokeWidth": 1},
  "encoding": {"x": {"datum": -135.8, "type": "quantitative"}, "x2": {"datum": 2500}, "y": {"datum": 60.199, "type": "quantitative"}}},
 {"data": {"values": [{}]}, "mark": {"type": "rect", "fill": null, "fillOpacity": 0, "stroke": "#444", "strokeWidth": 1},
  "encoding": {"x": {"datum": 777.5, "type": "quantitative"}, "x2": {"datum": 1169.8}, "y": {"datum": 61.276, "type": "quantitative"}, "y2": {"datum": 60.278}}},
 {"data": {"values": [{}]}, "mark": {"type": "rect", "fill": null, "fillOpacity": 0, "stroke": "#444", "strokeWidth": 1},
  "encoding": {"x": {"datum": 1202.6, "type": "quantitative"}, "x2": {"datum": 1295}, "y": {"datum": 61.276, "type": "quantitative"}, "y2": {"datum": 60.278}}},
 {"data": {"values": [{}]}, "mark": {"type": "rect", "fill": null, "fillOpacity": 0, "stroke": "#444", "strokeWidth": 1},
  "encoding": {"x": {"datum": 1361.8, "type": "quantitative"}, "x2": {"datum": 1580.8}, "y": {"datum": 61.276, "type": "quantitative"}, "y2": {"datum": 60.278}}},
 {"data": {"values": [{}]}, "mark": {"type": "rect", "fill": null, "fillOpacity": 0, "stroke": "#444", "strokeWidth": 1},
  "encoding": {"x": {"datum": 1656.9, "type": "quantitative"}, "x2": {"datum": 1748.2}, "y": {"datum": 61.276, "type": "quantitative"}, "y2": {"datum": 60.278}}},
 {"data": {"values": [{}]}, "mark": {"type": "text", "text": "pos.1\u00a0\u00a0\u00a0Leq 1s\u00a0\u00a0\u00a0A", "align": "left", "baseline": "alphabetic", "fontSize": 26},
  "encoding": {"x": {"datum": -117.1, "type": "quantitative"}, "y": {"datum": 60.477, "type": "quantitative"}}},
 {"data": {"values": [{}]}, "mark": {"type": "text", "text": "MER 20/10/10 10h35m52", "align": "right", "baseline": "alphabetic"},
  "encoding": {"x": {"datum": 1174, "type": "quantitative"}, "y": {"datum": 60.477, "type": "quantitative"}}},
 {"data": {"values": [{}]}, "mark": {"type": "text", "text": "48,2dB", "align": "left", "baseline": "alphabetic"},
  "encoding": {"x": {"datum": 1236.1, "type": "quantitative"}, "y": {"datum": 60.477, "type": "quantitative"}}},
 {"data": {"values": [{}]}, "mark": {"type": "text", "text": "0h30m00", "align": "right", "baseline": "alphabetic"},
  "encoding": {"x": {"datum": 1587, "type": "quantitative"}, "y": {"datum": 60.477, "type": "quantitative"}}},
 {"data": {"values": [{}]}, "mark": {"type": "text", "text": "SEL", "align": "left", "baseline": "alphabetic"},
  "encoding": {"x": {"datum": 1597.2, "type": "quantitative"}, "y": {"datum": 60.477, "type": "quantitative"}}},
 {"data": {"values": [{}]}, "mark": {"type": "text", "text": "80,8dB", "align": "left", "baseline": "alphabetic"},
  "encoding": {"x": {"datum": 1690.9, "type": "quantitative"}, "y": {"datum": 60.477, "type": "quantitative"}}}
]
}
